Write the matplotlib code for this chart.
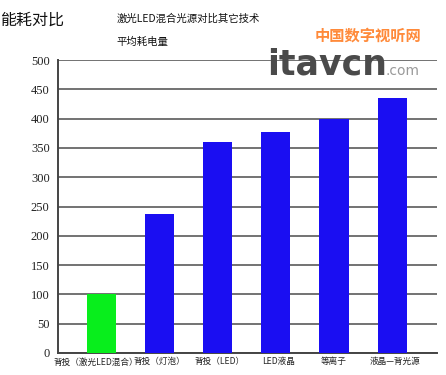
import matplotlib
matplotlib.use("Agg")
import matplotlib.pyplot as plt
import matplotlib.transforms as mtransforms

plt.rcParams['font.family'] = ['Noto Sans CJK SC', 'DejaVu Sans']

# data
categories = ["背投（激光LED混合）", "背投（灯泡）", "背投（LED）", "LED液晶", "等离子", "液晶—背光源"]
values = [100, 237, 360, 378, 400, 435]
colors = ["#08ee1c", "#1a0ef2", "#1a0ef2", "#1a0ef2", "#1a0ef2", "#1a0ef2"]
yticks = [0, 50, 100, 150, 200, 250, 300, 350, 400, 450, 500]

fig = plt.figure(figsize=(4.46, 3.75), dpi=100)
ax = fig.add_axes([0.130, 0.0587, 0.850, 0.781])

x = list(range(len(categories)))
ax.bar(x, values, width=0.5, color=colors, zorder=3)

ax.set_ylim(0, 500)
ax.set_xlim(-0.74, 5.77)
ax.set_yticks(yticks)
ax.set_yticklabels([str(v) for v in yticks])
ax.set_xticks(x)
ax.set_xticklabels([])
ax.tick_params(axis='both', length=0, colors='#222222')
ax.tick_params(axis='y', pad=6)
for t in ax.get_yticklabels():
    t.set_fontfamily(['Liberation Serif', 'DejaVu Serif'])
    t.set_fontsize(9)

# category labels, a little shifted so the long first one does not collide
trans = mtransforms.blended_transform_factory(ax.transData, fig.transFigure)
shifts = [-0.09, 0.0, 0.03, 0.05, 0.0, 0.05]
for xi, lab, dx in zip(x, categories, shifts):
    ax.text(xi + dx, 0.035, lab, transform=trans, ha='center', va='center',
            fontsize=6.2, color='#222222')

ax.grid(axis='y', color='#5a5a5a', linewidth=1.2, zorder=0)
for s in ['top', 'right']:
    ax.spines[s].set_visible(False)
for s in ['left', 'bottom']:
    ax.spines[s].set_color('#444444')
    ax.spines[s].set_linewidth(1.4)

# titles
fig.text(0.0, 0.945, "能耗对比", fontsize=11.5, color='#111111', va='center', ha='left')
fig.text(0.262, 0.950, "激光LED混合光源对比其它技术", fontsize=7.5, color='#111111', va='center', ha='left')
fig.text(0.262, 0.887, "平均耗电量", fontsize=7.5, color='#111111', va='center', ha='left')

# watermark
fig.text(0.705, 0.905, "中国数字视听网", fontsize=11, color='#ff8a3a', va='center', ha='left',
         fontweight='bold', style='italic')
fig.text(0.598, 0.828, "itavcn", fontsize=25, color='#4a4a4a', va='center', ha='left',
         fontweight='bold', family=['DejaVu Sans'])
fig.text(0.865, 0.810, ".com", fontsize=10, color='#9a9a9a', va='center', ha='left',
         family=['DejaVu Sans'])

fig.savefig("out.png", dpi=100)
